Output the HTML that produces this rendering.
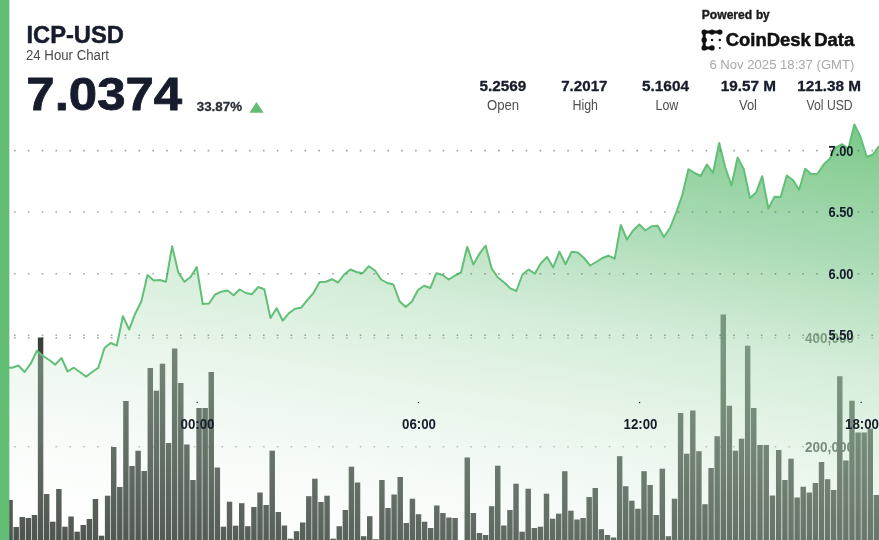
<!DOCTYPE html>
<html><head><meta charset="utf-8"><title>ICP-USD 24 Hour Chart</title>
<style>
html,body{margin:0;padding:0;background:#fff;}
body{width:879px;height:540px;overflow:hidden;font-family:"Liberation Sans",sans-serif;}
svg{display:block;font-family:"Liberation Sans",sans-serif;}
</style></head><body>
<svg width="879" height="540" viewBox="0 0 879 540">
<defs>
<linearGradient id="ag" gradientUnits="userSpaceOnUse" x1="879" y1="120" x2="788" y2="670">
<stop offset="0" stop-color="#58bb6a" stop-opacity="0.82"/>
<stop offset="0.1" stop-color="#6ac179" stop-opacity="0.76"/>
<stop offset="0.25" stop-color="#7ec890" stop-opacity="0.66"/>
<stop offset="0.45" stop-color="#b2deb9" stop-opacity="0.55"/>
<stop offset="0.74" stop-color="#d8eedc" stop-opacity="0.31"/>
<stop offset="1" stop-color="#ffffff" stop-opacity="0.10"/>
</linearGradient>
<filter id="soft" x="-10" y="-10" width="899" height="560" filterUnits="userSpaceOnUse" color-interpolation-filters="sRGB"><feGaussianBlur stdDeviation="0.35"/></filter>
</defs>
<rect width="879" height="540" fill="#fff"/>
<g filter="url(#soft)">
<!-- volume axis -->
<g>
<line x1="0" y1="337.9" x2="879" y2="337.9" stroke="#5e6a61" stroke-opacity="0.55" stroke-width="1.6" stroke-dasharray="1.6 12.23" stroke-dashoffset="-0.2"/>
<line x1="0" y1="446.8" x2="879" y2="446.8" stroke="#5e6a61" stroke-opacity="0.55" stroke-width="1.6" stroke-dasharray="1.6 12.23" stroke-dashoffset="-0.2"/>
<text x="805" y="342.5" font-size="13.8" font-weight="bold" fill="#3f4a42" text-anchor="start" textLength="49" lengthAdjust="spacingAndGlyphs">400,000</text>
<text x="805" y="451.5" font-size="13.8" font-weight="bold" fill="#3f4a42" text-anchor="start" textLength="49" lengthAdjust="spacingAndGlyphs">200,000</text>
</g>
<!-- bars -->
<g fill="#384139">
<rect x="1.28" y="520.0" width="5.45" height="26.0"/>
<rect x="7.38" y="500.0" width="5.45" height="46.0"/>
<rect x="13.47" y="527.0" width="5.45" height="19.0"/>
<rect x="19.57" y="517.0" width="5.45" height="29.0"/>
<rect x="25.66" y="518.0" width="5.45" height="28.0"/>
<rect x="31.76" y="515.0" width="5.45" height="31.0"/>
<rect x="37.85" y="337.5" width="5.45" height="208.5"/>
<rect x="43.95" y="494.0" width="5.45" height="52.0"/>
<rect x="50.04" y="521.7" width="5.45" height="24.3"/>
<rect x="56.14" y="489.0" width="5.45" height="57.0"/>
<rect x="62.23" y="526.7" width="5.45" height="19.3"/>
<rect x="68.33" y="516.5" width="5.45" height="29.5"/>
<rect x="74.43" y="531.7" width="5.45" height="14.3"/>
<rect x="80.52" y="525.0" width="5.45" height="21.0"/>
<rect x="86.62" y="519.0" width="5.45" height="27.0"/>
<rect x="92.71" y="499.0" width="5.45" height="47.0"/>
<rect x="98.81" y="535.7" width="5.45" height="10.3"/>
<rect x="104.90" y="495.7" width="5.45" height="50.3"/>
<rect x="111.00" y="447.0" width="5.45" height="99.0"/>
<rect x="117.09" y="487.0" width="5.45" height="59.0"/>
<rect x="123.19" y="401.0" width="5.45" height="145.0"/>
<rect x="129.29" y="466.0" width="5.45" height="80.0"/>
<rect x="135.38" y="450.7" width="5.45" height="95.3"/>
<rect x="141.48" y="471.0" width="5.45" height="75.0"/>
<rect x="147.57" y="368.0" width="5.45" height="178.0"/>
<rect x="153.67" y="390.7" width="5.45" height="155.3"/>
<rect x="159.76" y="363.7" width="5.45" height="182.3"/>
<rect x="165.86" y="443.0" width="5.45" height="103.0"/>
<rect x="171.95" y="348.5" width="5.45" height="197.5"/>
<rect x="178.05" y="383.0" width="5.45" height="163.0"/>
<rect x="184.15" y="444.5" width="5.45" height="101.5"/>
<rect x="190.24" y="480.0" width="5.45" height="66.0"/>
<rect x="196.34" y="408.0" width="5.45" height="138.0"/>
<rect x="202.43" y="408.0" width="5.45" height="138.0"/>
<rect x="208.53" y="372.0" width="5.45" height="174.0"/>
<rect x="214.62" y="467.5" width="5.45" height="78.5"/>
<rect x="220.72" y="526.7" width="5.45" height="19.3"/>
<rect x="226.81" y="501.7" width="5.45" height="44.3"/>
<rect x="232.91" y="525.7" width="5.45" height="20.3"/>
<rect x="239.00" y="503.2" width="5.45" height="42.8"/>
<rect x="245.10" y="526.2" width="5.45" height="19.8"/>
<rect x="251.20" y="507.0" width="5.45" height="39.0"/>
<rect x="257.29" y="492.5" width="5.45" height="53.5"/>
<rect x="263.39" y="505.0" width="5.45" height="41.0"/>
<rect x="269.48" y="450.7" width="5.45" height="95.3"/>
<rect x="275.58" y="512.0" width="5.45" height="34.0"/>
<rect x="281.67" y="525.5" width="5.45" height="20.5"/>
<rect x="287.77" y="538.7" width="5.45" height="7.3"/>
<rect x="293.86" y="531.2" width="5.45" height="14.8"/>
<rect x="299.96" y="522.5" width="5.45" height="23.5"/>
<rect x="306.06" y="496.2" width="5.45" height="49.8"/>
<rect x="312.15" y="478.7" width="5.45" height="67.3"/>
<rect x="318.25" y="502.0" width="5.45" height="44.0"/>
<rect x="324.34" y="495.7" width="5.45" height="50.3"/>
<rect x="330.44" y="538.7" width="5.45" height="7.3"/>
<rect x="336.53" y="526.2" width="5.45" height="19.8"/>
<rect x="342.63" y="510.0" width="5.45" height="36.0"/>
<rect x="348.72" y="466.7" width="5.45" height="79.3"/>
<rect x="354.82" y="482.5" width="5.45" height="63.5"/>
<rect x="360.91" y="536.2" width="5.45" height="9.8"/>
<rect x="367.01" y="516.2" width="5.45" height="29.8"/>
<rect x="373.11" y="539.2" width="5.45" height="6.8"/>
<rect x="379.20" y="480.0" width="5.45" height="66.0"/>
<rect x="385.30" y="508.0" width="5.45" height="38.0"/>
<rect x="391.39" y="494.5" width="5.45" height="51.5"/>
<rect x="397.49" y="477.0" width="5.45" height="69.0"/>
<rect x="403.58" y="523.0" width="5.45" height="23.0"/>
<rect x="409.68" y="498.7" width="5.45" height="47.3"/>
<rect x="415.77" y="514.2" width="5.45" height="31.8"/>
<rect x="421.87" y="521.7" width="5.45" height="24.3"/>
<rect x="427.97" y="528.0" width="5.45" height="18.0"/>
<rect x="434.06" y="505.5" width="5.45" height="40.5"/>
<rect x="440.16" y="513.0" width="5.45" height="33.0"/>
<rect x="446.25" y="517.5" width="5.45" height="28.5"/>
<rect x="452.35" y="518.0" width="5.45" height="28.0"/>
<rect x="464.54" y="457.5" width="5.45" height="88.5"/>
<rect x="470.63" y="513.0" width="5.45" height="33.0"/>
<rect x="476.73" y="533.0" width="5.45" height="13.0"/>
<rect x="482.82" y="535.0" width="5.45" height="11.0"/>
<rect x="488.92" y="506.2" width="5.45" height="39.8"/>
<rect x="495.02" y="465.7" width="5.45" height="80.3"/>
<rect x="501.11" y="525.5" width="5.45" height="20.5"/>
<rect x="507.21" y="510.0" width="5.45" height="36.0"/>
<rect x="513.30" y="483.7" width="5.45" height="62.3"/>
<rect x="519.40" y="531.7" width="5.45" height="14.3"/>
<rect x="525.49" y="488.7" width="5.45" height="57.3"/>
<rect x="531.59" y="528.0" width="5.45" height="18.0"/>
<rect x="537.68" y="526.7" width="5.45" height="19.3"/>
<rect x="543.78" y="493.7" width="5.45" height="52.3"/>
<rect x="549.88" y="518.7" width="5.45" height="27.3"/>
<rect x="555.97" y="513.7" width="5.45" height="32.3"/>
<rect x="562.07" y="471.2" width="5.45" height="74.8"/>
<rect x="568.16" y="510.7" width="5.45" height="35.3"/>
<rect x="574.26" y="519.5" width="5.45" height="26.5"/>
<rect x="580.35" y="518.0" width="5.45" height="28.0"/>
<rect x="586.45" y="497.0" width="5.45" height="49.0"/>
<rect x="592.54" y="488.0" width="5.45" height="58.0"/>
<rect x="598.64" y="529.2" width="5.45" height="16.8"/>
<rect x="604.73" y="535.0" width="5.45" height="11.0"/>
<rect x="610.83" y="537.5" width="5.45" height="8.5"/>
<rect x="616.93" y="456.2" width="5.45" height="89.8"/>
<rect x="623.02" y="486.2" width="5.45" height="59.8"/>
<rect x="629.12" y="500.7" width="5.45" height="45.3"/>
<rect x="635.21" y="508.7" width="5.45" height="37.3"/>
<rect x="641.31" y="471.2" width="5.45" height="74.8"/>
<rect x="647.40" y="485.0" width="5.45" height="61.0"/>
<rect x="653.50" y="515.0" width="5.45" height="31.0"/>
<rect x="659.59" y="468.7" width="5.45" height="77.3"/>
<rect x="665.69" y="536.2" width="5.45" height="9.8"/>
<rect x="671.78" y="498.7" width="5.45" height="47.3"/>
<rect x="677.88" y="413.0" width="5.45" height="133.0"/>
<rect x="683.98" y="453.7" width="5.45" height="92.3"/>
<rect x="690.07" y="410.5" width="5.45" height="135.5"/>
<rect x="696.17" y="451.2" width="5.45" height="94.8"/>
<rect x="702.26" y="504.2" width="5.45" height="41.8"/>
<rect x="708.36" y="468.0" width="5.45" height="78.0"/>
<rect x="714.45" y="436.2" width="5.45" height="109.8"/>
<rect x="720.55" y="314.5" width="5.45" height="231.5"/>
<rect x="726.64" y="405.7" width="5.45" height="140.3"/>
<rect x="732.74" y="450.7" width="5.45" height="95.3"/>
<rect x="738.84" y="438.7" width="5.45" height="107.3"/>
<rect x="744.93" y="345.7" width="5.45" height="200.3"/>
<rect x="751.03" y="408.0" width="5.45" height="138.0"/>
<rect x="757.26" y="445.0" width="5.45" height="101.0"/>
<rect x="763.50" y="445.0" width="5.45" height="101.0"/>
<rect x="769.73" y="495.5" width="5.45" height="50.5"/>
<rect x="775.97" y="450.0" width="5.45" height="96.0"/>
<rect x="782.20" y="480.0" width="5.45" height="66.0"/>
<rect x="788.30" y="458.7" width="5.45" height="87.3"/>
<rect x="794.40" y="497.5" width="5.45" height="48.5"/>
<rect x="800.49" y="486.7" width="5.45" height="59.3"/>
<rect x="806.59" y="492.5" width="5.45" height="53.5"/>
<rect x="812.68" y="483.0" width="5.45" height="63.0"/>
<rect x="818.78" y="462.0" width="5.45" height="84.0"/>
<rect x="824.87" y="479.2" width="5.45" height="66.8"/>
<rect x="830.97" y="490.0" width="5.45" height="56.0"/>
<rect x="837.06" y="376.2" width="5.45" height="169.8"/>
<rect x="843.16" y="460.5" width="5.45" height="85.5"/>
<rect x="849.25" y="400.7" width="5.45" height="145.3"/>
<rect x="855.35" y="432.5" width="5.45" height="113.5"/>
<rect x="861.45" y="432.5" width="5.45" height="113.5"/>
<rect x="867.54" y="428.7" width="5.45" height="117.3"/>
<rect x="873.64" y="495.0" width="5.45" height="51.0"/>
</g>
<!-- area -->
<path d="M0.0,367.5 L6.1,367.5 L12.3,367.7 L18.4,365.5 L24.6,372.0 L30.7,363.7 L36.9,350.8 L43.0,356.0 L49.2,360.0 L55.3,364.6 L61.5,358.0 L67.6,371.5 L73.8,367.7 L79.9,372.0 L86.1,376.8 L92.2,372.0 L98.3,367.7 L104.5,348.0 L110.6,343.0 L116.8,345.5 L122.9,316.2 L129.1,329.5 L135.2,313.7 L141.4,301.2 L147.5,275.0 L153.7,280.5 L159.8,280.0 L166.0,281.7 L172.1,246.2 L178.3,272.5 L184.4,281.7 L190.6,277.0 L196.7,267.0 L202.8,304.0 L209.0,303.5 L215.1,294.5 L221.3,291.7 L227.4,290.5 L233.6,295.2 L239.7,289.5 L245.9,293.0 L252.0,294.2 L258.2,287.0 L264.3,289.2 L270.5,318.0 L276.6,308.2 L282.8,320.7 L288.9,313.2 L295.0,308.7 L301.2,307.7 L307.3,300.2 L313.5,293.0 L319.6,282.0 L325.8,281.7 L331.9,279.2 L338.1,282.5 L344.2,274.5 L350.4,269.5 L356.5,272.0 L362.7,273.2 L368.8,266.2 L375.0,270.5 L381.1,279.5 L387.3,283.0 L393.4,284.5 L399.5,301.2 L405.7,307.0 L411.8,301.7 L418.0,290.0 L424.1,285.7 L430.3,288.0 L436.4,273.2 L442.6,275.0 L448.7,279.5 L454.9,275.7 L461.0,272.5 L467.2,246.7 L473.3,264.5 L479.5,253.7 L485.6,245.7 L491.7,268.7 L497.9,277.5 L504.0,282.3 L510.2,288.3 L516.3,291.0 L522.5,274.5 L528.6,269.5 L534.8,273.7 L540.9,263.2 L547.1,257.0 L553.2,267.5 L559.4,251.7 L565.5,264.2 L571.7,251.7 L577.8,252.5 L584.0,258.0 L590.1,265.5 L596.2,262.0 L602.4,258.0 L608.5,255.7 L614.7,258.7 L620.8,225.0 L627.0,239.5 L633.1,230.5 L639.3,224.5 L645.4,230.5 L651.6,226.2 L657.7,225.7 L663.9,237.0 L670.0,228.0 L676.2,212.5 L682.3,195.0 L688.4,169.2 L694.6,173.0 L700.7,176.0 L706.9,164.5 L713.0,173.0 L719.2,143.0 L725.3,167.5 L731.5,185.5 L737.6,157.5 L743.8,169.2 L749.9,198.0 L756.1,192.5 L762.2,176.2 L768.4,208.7 L774.5,196.7 L780.7,197.0 L786.8,175.5 L792.9,180.0 L799.1,190.0 L805.2,168.7 L811.4,174.2 L817.5,173.7 L823.7,164.5 L829.8,158.7 L836.0,147.5 L842.1,144.2 L848.3,148.7 L854.4,124.5 L860.6,137.0 L866.7,157.0 L872.9,154.5 L879.0,146.2 L886,145.2 L886,547 L-6,547 L-6,367.5 Z" fill="url(#ag)"/>
<path d="M0.0,367.5 L6.1,367.5 L12.3,367.7 L18.4,365.5 L24.6,372.0 L30.7,363.7 L36.9,350.8 L43.0,356.0 L49.2,360.0 L55.3,364.6 L61.5,358.0 L67.6,371.5 L73.8,367.7 L79.9,372.0 L86.1,376.8 L92.2,372.0 L98.3,367.7 L104.5,348.0 L110.6,343.0 L116.8,345.5 L122.9,316.2 L129.1,329.5 L135.2,313.7 L141.4,301.2 L147.5,275.0 L153.7,280.5 L159.8,280.0 L166.0,281.7 L172.1,246.2 L178.3,272.5 L184.4,281.7 L190.6,277.0 L196.7,267.0 L202.8,304.0 L209.0,303.5 L215.1,294.5 L221.3,291.7 L227.4,290.5 L233.6,295.2 L239.7,289.5 L245.9,293.0 L252.0,294.2 L258.2,287.0 L264.3,289.2 L270.5,318.0 L276.6,308.2 L282.8,320.7 L288.9,313.2 L295.0,308.7 L301.2,307.7 L307.3,300.2 L313.5,293.0 L319.6,282.0 L325.8,281.7 L331.9,279.2 L338.1,282.5 L344.2,274.5 L350.4,269.5 L356.5,272.0 L362.7,273.2 L368.8,266.2 L375.0,270.5 L381.1,279.5 L387.3,283.0 L393.4,284.5 L399.5,301.2 L405.7,307.0 L411.8,301.7 L418.0,290.0 L424.1,285.7 L430.3,288.0 L436.4,273.2 L442.6,275.0 L448.7,279.5 L454.9,275.7 L461.0,272.5 L467.2,246.7 L473.3,264.5 L479.5,253.7 L485.6,245.7 L491.7,268.7 L497.9,277.5 L504.0,282.3 L510.2,288.3 L516.3,291.0 L522.5,274.5 L528.6,269.5 L534.8,273.7 L540.9,263.2 L547.1,257.0 L553.2,267.5 L559.4,251.7 L565.5,264.2 L571.7,251.7 L577.8,252.5 L584.0,258.0 L590.1,265.5 L596.2,262.0 L602.4,258.0 L608.5,255.7 L614.7,258.7 L620.8,225.0 L627.0,239.5 L633.1,230.5 L639.3,224.5 L645.4,230.5 L651.6,226.2 L657.7,225.7 L663.9,237.0 L670.0,228.0 L676.2,212.5 L682.3,195.0 L688.4,169.2 L694.6,173.0 L700.7,176.0 L706.9,164.5 L713.0,173.0 L719.2,143.0 L725.3,167.5 L731.5,185.5 L737.6,157.5 L743.8,169.2 L749.9,198.0 L756.1,192.5 L762.2,176.2 L768.4,208.7 L774.5,196.7 L780.7,197.0 L786.8,175.5 L792.9,180.0 L799.1,190.0 L805.2,168.7 L811.4,174.2 L817.5,173.7 L823.7,164.5 L829.8,158.7 L836.0,147.5 L842.1,144.2 L848.3,148.7 L854.4,124.5 L860.6,137.0 L866.7,157.0 L872.9,154.5 L879.0,146.2 L886,145.2" fill="none" stroke="#62bf77" stroke-width="2.0" stroke-linejoin="round" stroke-linecap="round"/>
<!-- price axis -->
<g>
<line x1="0" y1="150.6" x2="879" y2="150.6" stroke="#5e6a61" stroke-opacity="0.6" stroke-width="1.6" stroke-dasharray="1.6 12.23" stroke-dashoffset="-0.2"/>
<line x1="0" y1="212.0" x2="879" y2="212.0" stroke="#5e6a61" stroke-opacity="0.6" stroke-width="1.6" stroke-dasharray="1.6 12.23" stroke-dashoffset="-0.2"/>
<line x1="0" y1="273.7" x2="879" y2="273.7" stroke="#5e6a61" stroke-opacity="0.6" stroke-width="1.6" stroke-dasharray="1.6 12.23" stroke-dashoffset="-0.2"/>
<line x1="0" y1="335.2" x2="879" y2="335.2" stroke="#5e6a61" stroke-opacity="0.6" stroke-width="1.6" stroke-dasharray="1.6 12.23" stroke-dashoffset="-0.2"/>
<text x="828.5" y="155.5" font-size="13.8" font-weight="bold" fill="#161c2c" text-anchor="start" textLength="25" lengthAdjust="spacingAndGlyphs">7.00</text>
<text x="828.5" y="216.7" font-size="13.8" font-weight="bold" fill="#161c2c" text-anchor="start" textLength="25" lengthAdjust="spacingAndGlyphs">6.50</text>
<text x="828.5" y="278.5" font-size="13.8" font-weight="bold" fill="#161c2c" text-anchor="start" textLength="25" lengthAdjust="spacingAndGlyphs">6.00</text>
<text x="828.5" y="340" font-size="13.8" font-weight="bold" fill="#161c2c" text-anchor="start" textLength="25" lengthAdjust="spacingAndGlyphs">5.50</text>
</g>
<!-- time axis -->
<g>
<text x="180.5" y="428.5" font-size="13.8" font-weight="bold" fill="#161c2c" text-anchor="start" textLength="34" lengthAdjust="spacingAndGlyphs">00:00</text>
<text x="402" y="428.5" font-size="13.8" font-weight="bold" fill="#161c2c" text-anchor="start" textLength="34" lengthAdjust="spacingAndGlyphs">06:00</text>
<text x="623.5" y="428.5" font-size="13.8" font-weight="bold" fill="#161c2c" text-anchor="start" textLength="34" lengthAdjust="spacingAndGlyphs">12:00</text>
<text x="845" y="428.5" font-size="13.8" font-weight="bold" fill="#161c2c" text-anchor="start" textLength="34" lengthAdjust="spacingAndGlyphs">18:00</text>
<rect x="196.6" y="401.8" width="1.2" height="1.2" fill="#161c2c"/>
<rect x="860.6" y="401.8" width="1.2" height="1.2" fill="#161c2c"/>
<rect x="417.8" y="401.9" width="1.2" height="1.2" fill="#161c2c"/>
<rect x="639.0" y="401.9" width="1.2" height="1.2" fill="#161c2c"/>
</g>
<!-- left border -->
<rect x="-6" y="-6" width="15.35" height="552" fill="#63be75"/>
<!-- header -->
<text x="26.4" y="42.5" font-size="23.6" font-weight="bold" fill="#161c2c" text-anchor="start" textLength="97.6" lengthAdjust="spacingAndGlyphs" stroke="#161c2c" stroke-width="0.5" stroke-linejoin="round">ICP-USD</text>
<text x="26" y="59.5" font-size="14" font-weight="normal" fill="#4a4a4a" text-anchor="start" textLength="83" lengthAdjust="spacingAndGlyphs">24 Hour Chart</text>
<text x="26.3" y="110" font-size="46.6" font-weight="bold" fill="#161c2c" text-anchor="start" textLength="155.9" lengthAdjust="spacingAndGlyphs" stroke="#161c2c" stroke-width="0.8" stroke-linejoin="round">7.0374</text>
<text x="196.8" y="110.6" font-size="12.8" font-weight="bold" fill="#2a2e38" text-anchor="start" textLength="45.2" lengthAdjust="spacingAndGlyphs" stroke="#2a2e38" stroke-width="0.3" stroke-linejoin="round">33.87%</text>
<path d="M256.5,101.9 L263.7,112.8 L249.3,112.8 Z" fill="#62be72"/>
<!-- stats -->
<text x="479.5" y="90.5" font-size="14.5" font-weight="bold" fill="#161c2c" text-anchor="start" textLength="46.8" lengthAdjust="spacingAndGlyphs" stroke="#161c2c" stroke-width="0.3" stroke-linejoin="round">5.2569</text>
<text x="487" y="110" font-size="13.8" font-weight="normal" fill="#4f4f4f" text-anchor="start" textLength="32.2" lengthAdjust="spacingAndGlyphs">Open</text>
<text x="561.2" y="90.5" font-size="14.5" font-weight="bold" fill="#161c2c" text-anchor="start" textLength="46.3" lengthAdjust="spacingAndGlyphs" stroke="#161c2c" stroke-width="0.3" stroke-linejoin="round">7.2017</text>
<text x="572.5" y="110" font-size="13.8" font-weight="normal" fill="#4f4f4f" text-anchor="start" textLength="25.5" lengthAdjust="spacingAndGlyphs">High</text>
<text x="642" y="90.5" font-size="14.5" font-weight="bold" fill="#161c2c" text-anchor="start" textLength="47" lengthAdjust="spacingAndGlyphs" stroke="#161c2c" stroke-width="0.3" stroke-linejoin="round">5.1604</text>
<text x="655.5" y="110" font-size="13.8" font-weight="normal" fill="#4f4f4f" text-anchor="start" textLength="22.8" lengthAdjust="spacingAndGlyphs">Low</text>
<text x="720.8" y="90.5" font-size="14.5" font-weight="bold" fill="#161c2c" text-anchor="start" textLength="55.2" lengthAdjust="spacingAndGlyphs" stroke="#161c2c" stroke-width="0.3" stroke-linejoin="round">19.57 M</text>
<text x="739" y="110" font-size="13.8" font-weight="normal" fill="#4f4f4f" text-anchor="start" textLength="18" lengthAdjust="spacingAndGlyphs">Vol</text>
<text x="797.2" y="90.5" font-size="14.5" font-weight="bold" fill="#161c2c" text-anchor="start" textLength="63.8" lengthAdjust="spacingAndGlyphs" stroke="#161c2c" stroke-width="0.3" stroke-linejoin="round">121.38 M</text>
<text x="806.5" y="110" font-size="13.8" font-weight="normal" fill="#4f4f4f" text-anchor="start" textLength="46.2" lengthAdjust="spacingAndGlyphs">Vol USD</text>
<!-- powered by -->
<text x="701.8" y="18.5" font-size="12.6" font-weight="bold" fill="#1b1b1b" text-anchor="start" textLength="50.4" lengthAdjust="spacingAndGlyphs" stroke="#1b1b1b" stroke-width="0.4" stroke-linejoin="round">Powered</text>
<text x="755.9" y="18.5" font-size="12.6" font-weight="bold" fill="#1b1b1b" text-anchor="start" textLength="13.8" lengthAdjust="spacingAndGlyphs" stroke="#1b1b1b" stroke-width="0.4" stroke-linejoin="round">by</text>
<g id="logo" fill="#111" transform="translate(0,0.3)">
<path d="M719.8,31.8 H704.2 V47.6 H712" fill="none" stroke="#111" stroke-width="3" stroke-linecap="round" stroke-linejoin="round"/>
<circle cx="704.2" cy="31.8" r="2.7"/><circle cx="712" cy="31.8" r="2.7"/><circle cx="719.8" cy="31.8" r="2.7"/>
<circle cx="704.2" cy="39.7" r="2.7"/><circle cx="704.2" cy="47.6" r="2.7"/><circle cx="712" cy="47.6" r="2.7"/>
<circle cx="712" cy="39.8" r="1.25"/><circle cx="719.8" cy="39.8" r="1.25"/><circle cx="719.8" cy="47.6" r="1.0"/>
</g>
<text x="725.7" y="46.4" font-size="18.4" font-weight="bold" fill="#111" text-anchor="start" textLength="85.1" lengthAdjust="spacingAndGlyphs" stroke="#111" stroke-width="0.5" stroke-linejoin="round">CoinDesk</text>
<text x="814.2" y="46.4" font-size="18.4" font-weight="bold" fill="#111" text-anchor="start" textLength="40" lengthAdjust="spacingAndGlyphs" stroke="#111" stroke-width="0.5" stroke-linejoin="round">Data</text>
<text x="709.4" y="69" font-size="13" font-weight="normal" fill="#a9a9a9" text-anchor="start" textLength="145" lengthAdjust="spacingAndGlyphs">6 Nov 2025 18:37 (GMT)</text>
</g>
</svg>
</body></html>
